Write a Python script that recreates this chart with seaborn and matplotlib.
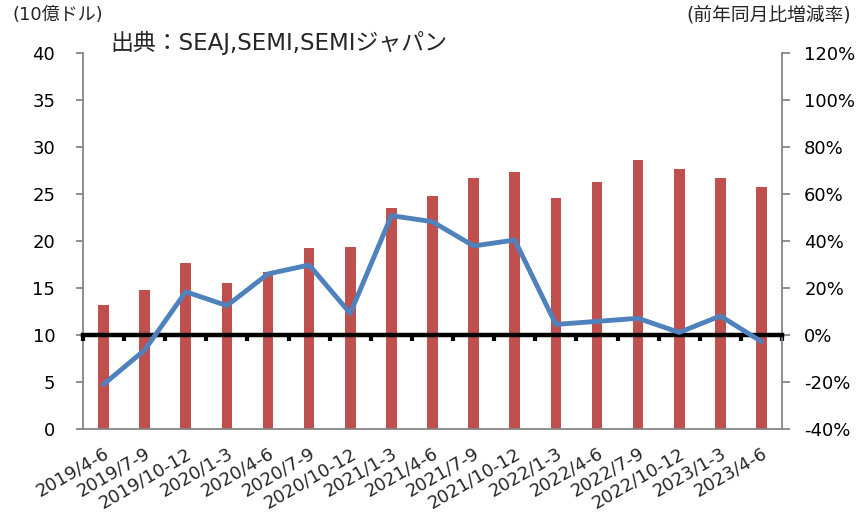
import numpy as np
import pandas as pd
import matplotlib
matplotlib.use("Agg")
import matplotlib.pyplot as plt
from matplotlib.ticker import FixedLocator, FuncFormatter
import seaborn as sns

quarters = ["2019/4-6", "2019/7-9", "2019/10-12", "2020/1-3", "2020/4-6", "2020/7-9",
            "2020/10-12", "2021/1-3", "2021/4-6", "2021/7-9", "2021/10-12", "2022/1-3",
            "2022/4-6", "2022/7-9", "2022/10-12", "2023/1-3", "2023/4-6"]
sales = [13.2, 14.8, 17.7, 15.5, 16.7, 19.3, 19.4, 23.5, 24.8, 26.7, 27.3, 24.6,
         26.3, 28.6, 27.7, 26.7, 25.7]
yoy = [-21.0, -6.4, 18.4, 12.5, 26.0, 29.8, 9.2, 50.8, 48.2, 37.9, 40.4, 4.5,
       5.8, 7.1, 1.1, 8.1, -2.8]

left_ticks = list(range(0, 41, 5))
right_ticks = list(range(-40, 121, 20))

sns.set_style("white")
plt.rcParams["font.family"] = ["DejaVu Sans", "Noto Sans CJK JP"]

df = pd.DataFrame({"quarter": quarters, "sales": sales, "yoy": yoy,
                   "pos": np.arange(len(quarters))})

fig = plt.figure(figsize=(8.61, 5.16), dpi=100)
ax = fig.add_axes([83 / 861, 87 / 516, 699 / 861, 376 / 516])

sns.barplot(data=df, x="quarter", y="sales", color="#C0504D", saturation=1,
            width=0.26, linewidth=0, ax=ax)
ax.set_xlim(-0.5, len(quarters) - 0.5)
ax.set_ylim(0, 40)
ax.yaxis.set_major_locator(FixedLocator(left_ticks))
ax.set_xlabel("")
ax.set_ylabel("")

gray = "#868686"
for side in ["left", "bottom"]:
    ax.spines[side].set_color(gray)
    ax.spines[side].set_linewidth(1.3)
for side in ["top", "right"]:
    ax.spines[side].set_visible(False)
ax.tick_params(axis="y", which="major", direction="out", length=5, width=1.3,
               color=gray, labelsize=13, labelcolor="black", left=True, pad=15)
ax.tick_params(axis="x", which="major", length=0, labelsize=13, pad=11)
ax.xaxis.set_minor_locator(FixedLocator(np.arange(-0.5, len(quarters), 1.0)))
ax.tick_params(axis="x", which="minor", length=0)
for lbl in ax.get_xticklabels():
    lbl.set_rotation(30)
    lbl.set_ha("right")
    lbl.set_rotation_mode("anchor")

# Secondary axis: year-over-year change
ax2 = ax.twinx()
sns.lineplot(data=df, x="pos", y="yoy", color="#4F81BD", linewidth=3.5,
             ax=ax2, zorder=4)
ax2.set_ylim(-40, 120)
ax2.yaxis.set_major_locator(FixedLocator(right_ticks))
ax2.yaxis.set_major_formatter(FuncFormatter(lambda v, p: f"{int(v)}%"))
ax2.set_xlabel("")
ax2.set_ylabel("")
ax2.spines["right"].set_color(gray)
ax2.spines["right"].set_linewidth(1.3)
ax2.spines["left"].set_visible(False)
ax2.spines["top"].set_visible(False)
ax2.tick_params(axis="y", which="major", direction="out", length=6, width=1.3,
                color=gray, labelsize=13, labelcolor="black", right=True, pad=10)

# Zero-percent baseline with category separators
ax2.xaxis.set_visible(True)
ax2.spines["bottom"].set_visible(True)
ax2.spines["bottom"].set_position(("data", 0))
ax2.spines["bottom"].set_color("black")
ax2.spines["bottom"].set_linewidth(3.2)
ax2.spines["bottom"].set_zorder(3)
ax2.tick_params(axis="x", which="minor", direction="out", length=4, width=3,
                color="black", bottom=True, labelbottom=False)
ax2.tick_params(axis="x", which="major", length=0, labelbottom=False)

fig.text(13 / 861, 1 - 15 / 516, "(10億ドル)", fontsize=13, va="center", ha="left")
fig.text(851 / 861, 1 - 15 / 516, "(前年同月比増減率)", fontsize=13.5, va="center", ha="right")
fig.text(110 / 861, 1 - 43 / 516, "出典：SEAJ,SEMI,SEMIジャパン", fontsize=16.5,
         va="center", ha="left")

fig.savefig("out.png", dpi=100)
